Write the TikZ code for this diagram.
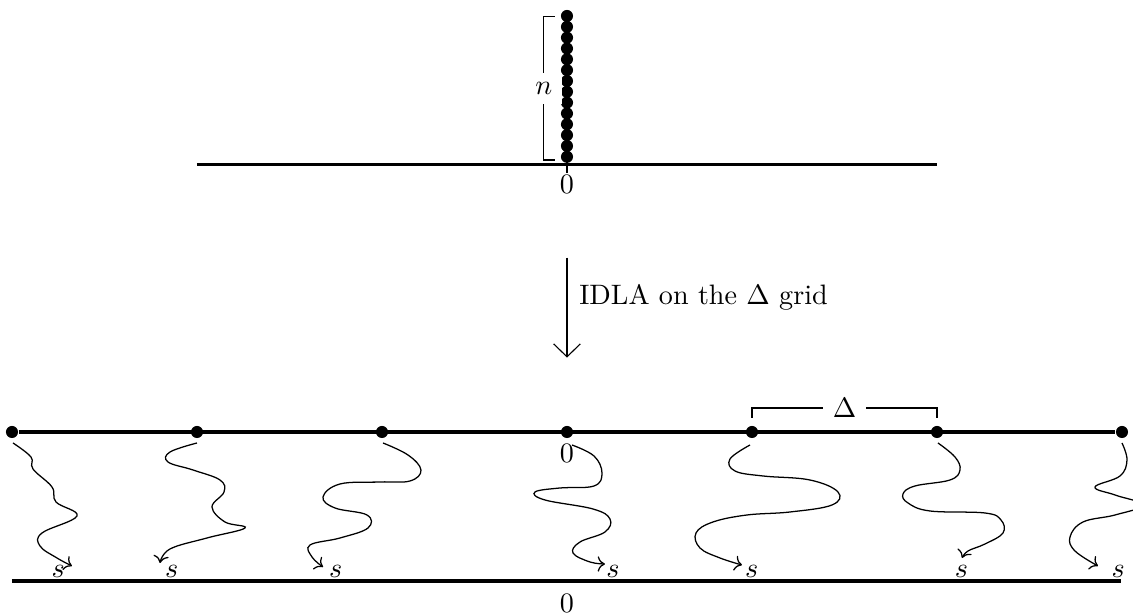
\documentclass[tikz,border=0pt]{standalone}
\usetikzlibrary{arrows.meta}
\tikzset{
  % --- LINES ---
  axis/.style={
    line width=1.2pt
  },
  bracket-line/.style={
    line width=0.4pt
  },
  idla-arrow/.style={
    line width=0.4pt,
    -{Straight Barb[length=4.6pt,width=9.5pt]}
  },
  walk/.style={
    line width=0.45pt,
    ->
  },
  % --- DOTS ---
  site/.style={
    circle,
    fill=black,
    inner sep=0pt,
    minimum size=4.3pt
  },
  particle/.style={site},
  % --- LABELS ---
  gap-label/.style={
    fill=white
  },
  origin-label/.style={
    inner sep=0pt
  },
  stop-label/.style={
    inner sep=0pt
  },
}
\begin{document}
\begin{tikzpicture}
  \useasboundingbox (-7.0875,-2.2875) rectangle (7.075,5.4);

  % --- pile of n particles at the origin
  \coordinate (top-l) at (-4.625,3.34);
  \coordinate (top-r) at (4.625,3.34);
  \draw[axis] (top-l) -- (top-r);
  \coordinate (tick-a) at (0,3.41);
  \coordinate (tick-b) at (0,3.24);
  \draw (tick-a) -- (tick-b);
  \node[origin-label] (top-zero) at (0,3.09) {$0$};
  \foreach \i in {0,...,13}
    \node[particle] (p\i) at (0,3.44+\i*0.1354) {};
  \draw[bracket-line] (-0.15,5.19) -- (-0.29,5.19)
    -- node[gap-label] (n-label) {$n$} (-0.29,3.40) -- (-0.15,3.40);

  % --- IDLA arrow
  \coordinate (arr-top) at (0,2.18);
  \coordinate (arr-bot) at (0,0.93);
  \draw[idla-arrow] (arr-top) -- (arr-bot);
  \node[anchor=west] (idla) at (0.03,1.68) {IDLA on the $\Delta$ grid};

  % --- the Delta grid
  \foreach \i in {0,...,6}
    \node[site] (d\i) at ({(\i-3)*2.3125},0) {};
  \draw[axis] (d0) -- (d6);
  \node[origin-label] (mid-zero) at (0,-0.27) {$0$};
  \draw[bracket-line] (2.3125,0.175) -- (2.3125,0.30)
    -- node[gap-label] (delta-label) {$\Delta$} (4.625,0.30) -- (4.625,0.175);

  % --- random walks from each site
  \draw[walk] plot[smooth, tension=0.65] coordinates {(-6.925,-0.1375) (-6.70,-0.3125) (-6.675,-0.4625)
    (-6.4375,-0.6875) (-6.3875,-0.875) (-6.125,-1.05) (-6.5625,-1.2625) (-6.5875,-1.425)
    (-6.375,-1.575) (-6.1875,-1.675)};
  \draw[walk] plot[smooth, tension=0.65] coordinates {(-4.625,-0.1375) (-4.9625,-0.25) (-4.9875,-0.375)
    (-4.675,-0.475) (-4.3375,-0.6) (-4.2875,-0.75) (-4.4375,-0.9375) (-4.275,-1.125)
    (-4.025,-1.2) (-4.5,-1.325) (-4.9625,-1.4625) (-5.0875,-1.6375)};
  \draw[walk] plot[smooth, tension=0.65] coordinates {(-2.30,-0.1375) (-1.9875,-0.2875) (-1.825,-0.475)
    (-1.9625,-0.6125) (-2.3375,-0.625) (-2.8375,-0.65) (-3.05,-0.8125) (-2.9,-0.95)
    (-2.5,-1.0375) (-2.4875,-1.2) (-2.8375,-1.325) (-3.2125,-1.4125) (-3.1875,-1.5625)
    (-3.05,-1.6875)};
  \draw[walk] plot[smooth, tension=0.65] coordinates {(0.0625,-0.1625) (0.3375,-0.30) (0.4375,-0.5125)
    (0.3375,-0.675) (-0.0875,-0.70) (-0.40,-0.75) (-0.275,-0.85) (0.325,-0.9625)
    (0.5375,-1.0875) (0.475,-1.25) (0.1625,-1.375) (0.075,-1.5125) (0.2875,-1.625)
    (0.475,-1.65)};
  \draw[walk] plot[smooth, tension=0.65] coordinates {(2.2875,-0.1625) (2.0375,-0.3375) (2.1,-0.4875)
    (2.45,-0.55) (3.0375,-0.60) (3.3875,-0.75) (3.3125,-0.9125) (2.7875,-1.0)
    (2.25,-1.0375) (1.825,-1.125) (1.6125,-1.2625) (1.6625,-1.45) (1.9125,-1.575)
    (2.1875,-1.6625)};
  \draw[walk] plot[smooth, tension=0.65] coordinates {(4.6375,-0.1375) (4.85,-0.3125) (4.9125,-0.475)
    (4.7875,-0.60) (4.35,-0.675) (4.20,-0.775) (4.2625,-0.8875) (4.5375,-0.9875)
    (5.225,-1.0125) (5.425,-1.10) (5.45,-1.2625) (5.225,-1.40) (5.0125,-1.4875)
    (4.9375,-1.575)};
  \draw[walk] plot[smooth, tension=0.65] coordinates {(6.9375,-0.1375) (7.0,-0.35) (6.9125,-0.55)
    (6.60,-0.6875) (6.85,-0.7875) (7.2,-0.9125) (6.85,-1.0375) (6.45,-1.125)
    (6.2875,-1.3125) (6.35,-1.4875) (6.6375,-1.675)};

  % --- stopping level
  \coordinate (base-l) at (-6.9375,-1.8625);
  \coordinate (base-r) at (6.925,-1.8625);
  \draw[axis] (base-l) -- (base-r);
  \node[origin-label] (base-zero) at (0,-2.14) {$0$};
  \foreach \x [count=\k] in {-6.36,-4.94,-2.89,0.575,2.31,4.93,6.89}
    \node[stop-label] (s\k) at (\x,-1.745) {$s$};

\end{tikzpicture}
\end{document}
